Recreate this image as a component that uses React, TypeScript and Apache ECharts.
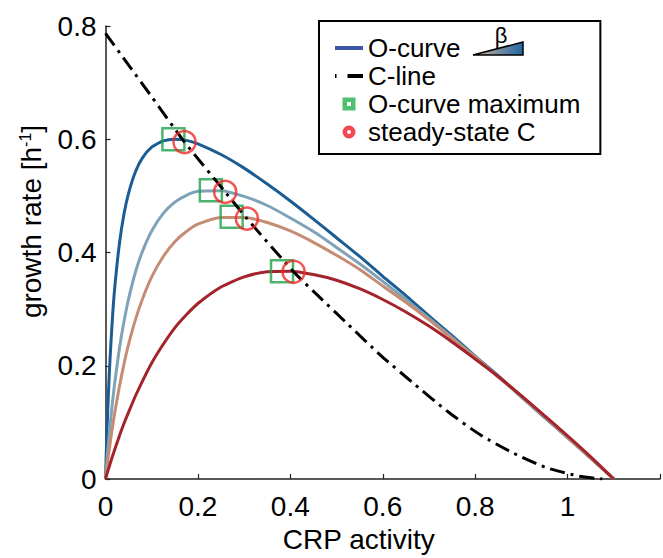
import React, { useEffect, useRef } from 'react';
import * as echarts from 'echarts';

// CRP activity sample positions (x) shared by the O-curves
const crpActivity = [0, 0.0025, 0.005, 0.0075, 0.01, 0.015, 0.02, 0.03, 0.04, 0.05, 0.065, 0.08, 0.1, 0.125, 0.15, 0.175, 0.2, 0.25, 0.3, 0.35, 0.4, 0.45, 0.5, 0.55, 0.6, 0.65, 0.7, 0.75, 0.8, 0.85, 0.9, 0.95, 1.0, 1.05, 1.1];

// O-curves (growth rate), four beta values
const oCurveDarkBlue = [0, 0.068, 0.124, 0.173, 0.215, 0.284, 0.338, 0.415, 0.468, 0.505, 0.543, 0.567, 0.586, 0.597, 0.6, 0.598, 0.592, 0.573, 0.549, 0.521, 0.491, 0.459, 0.426, 0.393, 0.358, 0.324, 0.288, 0.253, 0.217, 0.182, 0.145, 0.109, 0.073, 0.037, 0];
const oCurveLightBlue = [0, 0.026, 0.051, 0.074, 0.095, 0.135, 0.17, 0.23, 0.278, 0.318, 0.366, 0.402, 0.438, 0.469, 0.489, 0.501, 0.508, 0.509, 0.499, 0.483, 0.461, 0.437, 0.409, 0.38, 0.349, 0.317, 0.284, 0.25, 0.216, 0.181, 0.145, 0.11, 0.073, 0.037, 0];
const oCurveTan = [0, 0.017, 0.033, 0.048, 0.063, 0.091, 0.117, 0.163, 0.203, 0.238, 0.282, 0.318, 0.357, 0.393, 0.419, 0.437, 0.45, 0.462, 0.462, 0.453, 0.438, 0.418, 0.395, 0.37, 0.341, 0.312, 0.281, 0.248, 0.215, 0.18, 0.146, 0.11, 0.074, 0.037, 0];
const oCurveRed = [0, 0.007, 0.014, 0.02, 0.027, 0.04, 0.052, 0.076, 0.098, 0.118, 0.147, 0.173, 0.205, 0.238, 0.267, 0.29, 0.31, 0.339, 0.357, 0.366, 0.367, 0.361, 0.351, 0.336, 0.317, 0.295, 0.27, 0.242, 0.212, 0.181, 0.147, 0.112, 0.076, 0.039, 0];

// C-line
const cLineX = [0, 0.05, 0.1, 0.171, 0.259, 0.306, 0.407, 0.453, 0.525, 0.596, 0.668, 0.739, 0.811, 0.882, 0.954, 1.025, 1.075];
const cLineY = [0.787, 0.731, 0.675, 0.595, 0.507, 0.46, 0.366, 0.329, 0.273, 0.218, 0.168, 0.12, 0.078, 0.046, 0.02, 0.005, 0];

// O-curve maxima
const maxX = [0.147, 0.228, 0.273, 0.382];
const maxY = [0.6, 0.51, 0.463, 0.367];

// steady-state C (intersections)
const ssX = [0.171, 0.259, 0.306, 0.407];
const ssY = [0.595, 0.507, 0.46, 0.366];

const curveColors = ['#1b5c93', '#7ea3b8', '#c48d73', '#a3242a'];
const FONT = 'Liberation Sans, Arial, Helvetica, sans-serif';

// legend icons: filled marker with a small white hole
const squareIcon = 'path://M0,0L13,0L13,13L0,13ZM4.5,4.5L4.5,8.5L8.5,8.5L8.5,4.5Z';
const ringIcon = 'path://M6.5,0A6.5,6.5,0,1,1,6.5,13A6.5,6.5,0,1,1,6.5,0ZM6.5,4.5A2,2,0,1,0,6.5,8.5A2,2,0,1,0,6.5,4.5Z';

const zip = (xs: number[], ys: number[]) => xs.map((x, i) => [x, ys[i]]);

export default function App() {
  const ref = useRef<HTMLDivElement>(null);

  useEffect(() => {
    if (!ref.current) return;
    const chart = echarts.init(ref.current, undefined, { renderer: 'svg' });
    const curves = [oCurveDarkBlue, oCurveLightBlue, oCurveTan, oCurveRed];

    const fmt = (v: number) => {
      if (v > 1.05) return '';
      if (v === 0) return '0';
      if (Math.abs(v - 1) < 1e-9) return '1';
      return v.toFixed(1);
    };

    const option: any = {
      animation: false,
      backgroundColor: '#fff',
      textStyle: { fontFamily: FONT },
      grid: { left: 105.5, right: -2, top: 26, bottom: 75, containLabel: false },
      xAxis: {
        type: 'value',
        min: 0,
        max: 1.2,
        interval: 0.2,
        name: 'CRP activity',
        nameLocation: 'middle',
        nameGap: 46,
        nameTextStyle: { fontSize: 28, color: '#000', fontFamily: FONT, padding: [0, 48, 0, 0] },
        axisLine: { show: true, lineStyle: { color: '#222', width: 1.5 } },
        axisTick: { show: true, inside: true, length: 5, lineStyle: { color: '#222', width: 1.2 } },
        axisLabel: { fontSize: 28, color: '#000', fontFamily: FONT, margin: 13, formatter: fmt },
        splitLine: { show: false },
      },
      yAxis: {
        type: 'value',
        min: 0,
        max: 0.8,
        interval: 0.2,
        name: 'growth rate [h{sup|-1}]',
        nameLocation: 'middle',
        nameGap: 60,
        nameRotate: 90,
        nameTextStyle: {
          fontSize: 28,
          color: '#000',
          fontFamily: FONT,
          padding: [0, 0, 0, 62],
          rich: { sup: { fontSize: 16, verticalAlign: 'top', fontFamily: FONT, color: '#000', padding: [0, 0, 10, 0] } },
        },
        axisLine: { show: true, lineStyle: { color: '#222', width: 1.5 } },
        axisTick: { show: true, inside: true, length: 5, lineStyle: { color: '#222', width: 1.2 } },
        axisLabel: {
          fontSize: 28,
          color: '#000',
          fontFamily: FONT,
          margin: 9,
          formatter: (v: number) => (v === 0 ? '0' : v.toFixed(1)),
        },
        splitLine: { show: false },
      },
      legend: {
        orient: 'vertical',
        left: 319,
        top: 21,
        padding: [14, 20, 9, 14],
        itemWidth: 28,
        itemHeight: 13,
        itemGap: 2,
        symbolKeepAspect: true,
        borderColor: '#000',
        borderWidth: 2,
        backgroundColor: '#fff',
        selectedMode: false,
        textStyle: { fontSize: 26, lineHeight: 26, color: '#000', fontFamily: FONT },
        data: [
          { name: 'O-curve', lineStyle: { color: '#3b57a6', width: 4, type: 'solid' }, itemStyle: { opacity: 0 } },
          { name: 'C-line', lineStyle: { color: '#000', width: 4, type: [1.5, 11, 15.5, 100] }, itemStyle: { opacity: 0 } },
          { name: 'O-curve maximum', icon: squareIcon, itemStyle: { color: '#22b04b', borderWidth: 0 } },
          { name: 'steady-state C', icon: ringIcon, itemStyle: { color: '#ee1c25', borderWidth: 0 } },
        ],
      },
      series: [
        ...curves.map((vals, i) => ({
          name: 'O-curve',
          type: 'line',
          data: zip(crpActivity, vals),
          smooth: 0.2,
          symbol: 'none',
          showSymbol: false,
          lineStyle: { color: curveColors[i], width: 3 },
          itemStyle: { color: curveColors[i] },
          z: 2,
        })),
        {
          name: 'O-curve maximum',
          type: 'scatter',
          data: zip(maxX, maxY),
          symbol: 'rect',
          symbolSize: 22,
          itemStyle: { color: 'rgba(0,0,0,0)', borderColor: '#22a04a', borderWidth: 2.5 },
          z: 3,
        },
        {
          name: 'C-line',
          type: 'line',
          data: zip(cLineX, cLineY),
          smooth: 0.2,
          symbol: 'none',
          showSymbol: false,
          lineStyle: { color: '#000', width: 3, type: [15, 6, 3, 6] },
          itemStyle: { color: '#000' },
          z: 4,
        },
        {
          name: 'steady-state C',
          type: 'scatter',
          data: zip(ssX, ssY),
          symbol: 'circle',
          symbolSize: 22,
          itemStyle: { color: 'rgba(0,0,0,0)', borderColor: '#ee2a2a', borderWidth: 2.5 },
          z: 5,
        },
      ],
      graphic: [
        {
          type: 'polygon',
          z: 100,
          shape: { points: [[473, 55], [523, 55], [523, 42]] },
          style: {
            fill: new echarts.graphic.LinearGradient(0, 0, 1, 0, [
              { offset: 0, color: '#d9b59c' },
              { offset: 1, color: '#1f68a3' },
            ]),
            stroke: '#000',
            lineWidth: 1.5,
          },
        },
        {
          type: 'text',
          z: 100,
          x: 501,
          y: 35,
          style: { text: 'β', fontSize: 22, fontFamily: FONT, fill: '#000', align: 'center', verticalAlign: 'middle' },
        },
      ],
    };

    chart.setOption(option);
    return () => chart.dispose();
  }, []);

  return <div ref={ref} style={{ position: 'absolute', left: 0, top: 0, width: 663, height: 558 }} />;
}
